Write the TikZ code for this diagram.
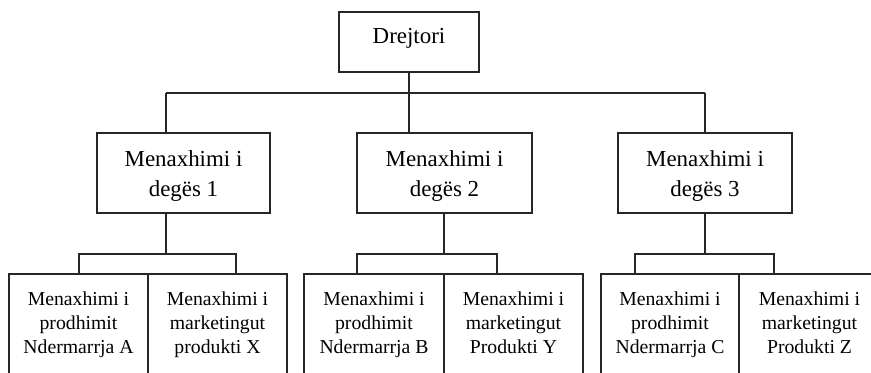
\documentclass[tikz,border=0pt]{standalone}
\usepackage{fontspec}
\setmainfont{Liberation Serif}
\begin{document}
\begin{tikzpicture}[x=1bp,y=-1bp,
  box/.style={draw=black!85, line width=1.3bp, rectangle, inner sep=0pt},
  conn/.style={draw=black!85, line width=1.3bp},
  toptext/.style={inner sep=0pt, anchor=base, font=\fontsize{23}{30}\selectfont},
  bigtext/.style={inner sep=0pt, align=center, anchor=north, font=\fontsize{23}{30.5}\selectfont},
  smalltext/.style={inner sep=0pt, align=center, anchor=north, font=\fontsize{19.8}{24}\selectfont}]
\useasboundingbox (0,0) rectangle (871,372);
\clip (0,0) rectangle (871,372);

% top
\node[box, minimum width=140bp, minimum height=60bp] (dir) at (409,42) {};
\node[toptext] (tdir) at (409,43) {Drejtori};

% level 2
\node[box, minimum width=173bp, minimum height=80bp] (m1) at (183.5,173) {};
\node[box, minimum width=175bp, minimum height=80bp] (m2) at (444.5,173) {};
\node[box, minimum width=174bp, minimum height=80bp] (m3) at (705,173) {};
\node[bigtext] (tm1) at (183.5,150.3) {Menaxhimi i\\degës 1};
\node[bigtext] (tm2) at (444.5,150.3) {Menaxhimi i\\degës 2};
\node[bigtext] (tm3) at (705,150.3) {Menaxhimi i\\degës 3};

% level 3
\node[box, minimum width=139bp, minimum height=150bp] (p1) at (78.5,349) {};
\node[box, minimum width=139bp, minimum height=150bp] (k1) at (217.5,349) {};
\node[box, minimum width=140bp, minimum height=150bp] (p2) at (374,349) {};
\node[box, minimum width=139bp, minimum height=150bp] (k2) at (513.5,349) {};
\node[box, minimum width=138bp, minimum height=150bp] (p3) at (670,349) {};
\node[box, minimum width=141bp, minimum height=150bp] (k3) at (809.5,349) {};
\node[smalltext] (tp1) at (78.5,291.5) {Menaxhimi i\\prodhimit\\Ndermarrja A};
\node[smalltext] (tk1) at (217.5,291.5) {Menaxhimi i\\marketingut\\produkti X};
\node[smalltext] (tp2) at (374,291.5) {Menaxhimi i\\prodhimit\\Ndermarrja B};
\node[smalltext] (tk2) at (513.5,291.5) {Menaxhimi i\\marketingut\\Produkti Y};
\node[smalltext] (tp3) at (670,291.5) {Menaxhimi i\\prodhimit\\Ndermarrja C};
\node[smalltext] (tk3) at (809.5,291.5) {Menaxhimi i\\marketingut\\Produkti Z};

% upper connectors
\coordinate (j1) at (166,93);
\coordinate (j3) at (705,93);
\draw[conn] (j1) -- (j3);
\draw[conn] (j1) -- (j1 |- m1.north);
\draw[conn] (dir.south) -- (dir.south |- m2.north);
\draw[conn] (j3) -- (j3 |- m3.north);

% lower connectors
\coordinate (g1) at (166,254);
\coordinate (g1l) at (79,254);
\coordinate (g1r) at (236,254);
\draw[conn] (g1 |- m1.south) -- (g1);
\draw[conn] (g1l |- p1.north) -- (g1l) -- (g1r) -- (g1r |- k1.north);

\coordinate (g2) at (444,254);
\coordinate (g2l) at (357,254);
\coordinate (g2r) at (497,254);
\draw[conn] (g2 |- m2.south) -- (g2);
\draw[conn] (g2l |- p2.north) -- (g2l) -- (g2r) -- (g2r |- k2.north);

\coordinate (g3) at (705,254);
\coordinate (g3l) at (635,254);
\coordinate (g3r) at (774,254);
\draw[conn] (g3 |- m3.south) -- (g3);
\draw[conn] (g3l |- p3.north) -- (g3l) -- (g3r) -- (g3r |- k3.north);
\end{tikzpicture}
\end{document}
